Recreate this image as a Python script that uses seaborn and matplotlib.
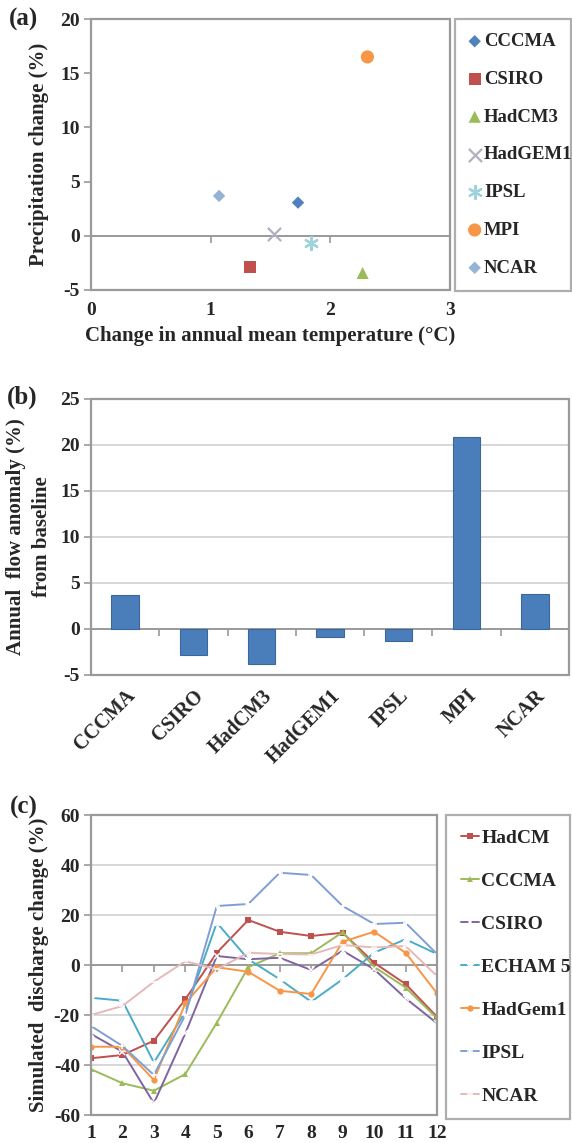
import numpy as np
import pandas as pd
import matplotlib
matplotlib.use("Agg")
import matplotlib.pyplot as plt
import seaborn as sns
from matplotlib.patches import Rectangle

# ---------------- data ----------------
models_a = ["CCCMA", "CSIRO", "HadCM3", "HadGEM1", "IPSL", "MPI", "NCAR"]
temp_change = [1.73, 1.33, 2.27, 1.53, 1.84, 2.31, 1.07]
precip_change = [3.06, -2.85, -3.43, 0.2, -0.67, 16.5, 3.68]

models_b = ["CCCMA", "CSIRO", "HadCM3", "HadGEM1", "IPSL", "MPI", "NCAR"]
flow_anomaly = [3.7, -2.8, -3.8, -0.9, -1.3, 20.9, 3.8]

months = [1, 2, 3, 4, 5, 6, 7, 8, 9, 10, 11, 12]
series_c = ["HadCM", "CCCMA", "CSIRO", "ECHAM 5", "HadGem1", "IPSL", "NCAR"]
hadcm = [-37.3, -36.0, -30.3, -13.7, 4.9, 18.0, 13.3, 11.6, 12.9, 0.9, -7.6, -20.7]
cccma = [-41.7, -47.3, -50.3, -43.6, -23.1, -0.9, 4.7, 4.7, 13.1, -0.7, -9.0, -21.3]
csiro = [-27.6, -34.7, -55.3, -27.3, 3.6, 2.3, 2.9, -2.0, 5.7, -1.7, -13.3, -23.3]
echam5 = [-13.1, -14.3, -39.0, -18.7, 16.9, 2.3, -5.7, -14.7, -5.7, 4.9, 10.3, 4.4]
hadgem1 = [-32.7, -32.7, -46.0, -15.3, -0.9, -2.7, -10.3, -11.6, 9.3, 13.3, 4.9, -11.3]
ipsl = [-24.4, -32.4, -44.0, -20.0, 23.6, 24.4, 36.9, 36.0, 23.6, 16.4, 16.9, 4.4]
ncar = [-20.0, -16.4, -6.7, 1.5, -1.7, 4.9, 4.4, 4.2, 8.0, 7.0, 7.6, -4.4]
values_c = [hadcm, cccma, csiro, echam5, hadgem1, ipsl, ncar]

# ---------------- style ----------------
sns.set_theme(style="white")
plt.rcParams["font.family"] = ["Liberation Serif", "DejaVu Serif"]
plt.rcParams["font.weight"] = "bold"
plt.rcParams["axes.labelweight"] = "bold"
plt.rcParams["axes.unicode_minus"] = False

GREY = "#9A9A9A"
GRID = "#D4D4D4"
FS = 14      # tick labels
LFS = 15     # axis titles

colors_a = {"CCCMA": "#4F81BD", "CSIRO": "#C0504D", "HadCM3": "#9BBB59",
            "HadGEM1": "#B4AEC2", "IPSL": "#9ED3DC", "MPI": "#F79646",
            "NCAR": "#95B3D7"}
markers_a = {"CCCMA": "D", "CSIRO": "s", "HadCM3": "^", "HadGEM1": "x",
             "IPSL": (6, 2, 0), "MPI": "o", "NCAR": "D"}
sizes_a = {"CCCMA": 40, "CSIRO": 75, "HadCM3": 75, "HadGEM1": 90,
           "IPSL": 90, "MPI": 90, "NCAR": 40}

colors_c = {"HadCM": "#C0504D", "CCCMA": "#9BBB59", "CSIRO": "#8064A2",
            "ECHAM 5": "#4BACC6", "HadGem1": "#F79646", "IPSL": "#7F9FD3",
            "NCAR": "#E6B9B8"}
markers_c = {"HadCM": "s", "CCCMA": "^", "CSIRO": "x", "ECHAM 5": (6, 2, 0),
             "HadGem1": "o", "IPSL": "+", "NCAR": "_"}

W, H = 572, 1143
fig = plt.figure(figsize=(W / 100, H / 100), dpi=100)


def fx(px):
    return px / W


def fy(py):
    return 1 - py / H


def frame(ax):
    for s in ax.spines.values():
        s.set_visible(False)
    ax.add_patch(Rectangle((0, 0), 1, 1, transform=ax.transAxes, fill=False,
                           edgecolor=GREY, linewidth=1.6, clip_on=False, zorder=5))


def zero_axis(ax, ticks, length=5):
    ax.spines["bottom"].set_visible(True)
    ax.spines["bottom"].set_position(("data", 0))
    ax.spines["bottom"].set_color(GREY)
    ax.spines["bottom"].set_linewidth(1.4)
    ax.set_xticks(ticks)
    ax.tick_params(axis="x", which="both", direction="out", length=length,
                   width=1.2, color=GREY, labelbottom=False, bottom=True)


def bottom_labels(ax, ticks, labels, size=FS, pad=6, **kw):
    sec = ax.secondary_xaxis("bottom")
    sec.set_xticks(ticks, labels=labels)
    sec.tick_params(length=0, labelsize=size, pad=pad)
    for s in sec.spines.values():
        s.set_visible(False)
    for t in sec.get_xticklabels():
        t.set_fontweight("bold")
        for k, v in kw.items():
            getattr(t, "set_" + k)(v)
    return sec


def left_ticks(ax):
    ax.tick_params(axis="y", direction="out", length=5, width=1.2, color=GREY,
                   left=True, labelsize=FS, pad=3)
    for t in ax.get_yticklabels():
        t.set_fontweight("bold")


# ---------------- panel (a) ----------------
ax_a = fig.add_axes([fx(91), fy(290), fx(450 - 91), (290 - 19) / H])
df_a = pd.DataFrame({"model": models_a, "temp": temp_change, "precip": precip_change})
for m in models_a:
    sub = df_a[df_a["model"] == m]
    filled = markers_a[m] not in ("x", (6, 2, 0))
    sns.scatterplot(data=sub, x="temp", y="precip", marker=markers_a[m],
                    color=colors_a[m], s=sizes_a[m], label=m, ax=ax_a,
                    edgecolor="none" if filled else None,
                    linewidth=0 if filled else 1.6, zorder=4)
ax_a.set_xlim(0, 3)
ax_a.set_ylim(-5, 20)
ax_a.set_yticks([-5, 0, 5, 10, 15, 20])
frame(ax_a)
zero_axis(ax_a, [0, 1, 2, 3])
sec_a = bottom_labels(ax_a, [0, 1, 2, 3], ["0", "1", "2", "3"], pad=9)
left_ticks(ax_a)
ax_a.set_xlabel("")
sec_a.set_xlabel("Change in annual mean temperature (\u00b0C)", fontsize=LFS,
                 fontweight="bold", labelpad=5)
ax_a.set_ylabel("Precipitation change (%)", fontsize=LFS, fontweight="bold", labelpad=8)
h, l = ax_a.get_legend_handles_labels()
ax_a.get_legend().remove()
leg_a = fig.legend(h, l, loc="upper left",
                   bbox_to_anchor=(fx(455), fy(290), fx(571 - 455), (290 - 19) / H),
                   mode="expand", frameon=True, fancybox=False, fontsize=13.5,
                   labelspacing=1.1, handlelength=0.6, handletextpad=0.2,
                   borderpad=0.75, borderaxespad=0)
leg_a.get_frame().set_edgecolor(GREY)
leg_a.get_frame().set_linewidth(1.6)
for t in leg_a.get_texts():
    t.set_fontweight("bold")

# ---------------- panel (b) ----------------
ax_b = fig.add_axes([fx(91), fy(675), fx(569 - 91), (675 - 399) / H])
df_b = pd.DataFrame({"model": models_b, "flow": flow_anomaly})
sns.barplot(data=df_b, x="model", y="flow", color="#4A7EBB", saturation=1,
            width=0.4, edgecolor="#3B679E", linewidth=0.8, ax=ax_b, zorder=3)
ax_b.set_xlim(-0.5, len(models_b) - 0.5)
ax_b.set_ylim(-5, 25)
ax_b.set_yticks([-5, 0, 5, 10, 15, 20, 25])
ax_b.yaxis.grid(True, color=GRID, linewidth=1.3, zorder=0)
ax_b.set_axisbelow(True)
frame(ax_b)
zero_axis(ax_b, [i + 0.5 for i in range(len(models_b) - 1)])
bottom_labels(ax_b, list(range(len(models_b))), models_b, size=14.5, pad=8,
              rotation=45, ha="right", rotation_mode="anchor")
left_ticks(ax_b)
ax_b.set_xlabel("")
ax_b.set_ylabel("Annual  flow anomaly (%)\nfrom baseline", fontsize=LFS,
                fontweight="bold", labelpad=6, linespacing=1.4)

# ---------------- panel (c) ----------------
ax_c = fig.add_axes([fx(91), fy(1115), fx(437 - 91), (1115 - 815) / H])
for name, vals in zip(series_c, values_c):
    mk = markers_c[name]
    filled = mk in ("s", "^", "o")
    sns.lineplot(x=months, y=vals, color=colors_c[name], marker=mk,
                 markersize=4.5 if filled else 5, markeredgewidth=0 if filled else 1.1,
                 linewidth=1.4, label=name, ax=ax_c, zorder=4)
ax_c.set_xlim(1, 12)
ax_c.set_ylim(-60, 60)
ax_c.set_yticks([-60, -40, -20, 0, 20, 40, 60])
ax_c.yaxis.grid(True, color=GRID, linewidth=1.3, zorder=0)
ax_c.set_axisbelow(True)
frame(ax_c)
zero_axis(ax_c, months)
bottom_labels(ax_c, months, [str(m) for m in months], pad=7)
left_ticks(ax_c)
ax_c.set_ylabel("Simulated  discharge change (%)", fontsize=LFS, fontweight="bold",
                labelpad=3)
h, l = ax_c.get_legend_handles_labels()
ax_c.get_legend().remove()
leg_c = fig.legend(h, l, loc="upper left",
                   bbox_to_anchor=(fx(446), fy(1117), fx(570 - 446), (1117 - 815) / H),
                   mode="expand", frameon=True, fancybox=False, fontsize=14,
                   labelspacing=1.3, handlelength=0.95, handletextpad=0.12,
                   borderpad=0.75, borderaxespad=0)
leg_c.get_frame().set_edgecolor(GREY)
leg_c.get_frame().set_linewidth(1.6)
for t in leg_c.get_texts():
    t.set_fontweight("bold")

# ---------------- panel letters ----------------
fig.text(fx(9), fy(19), "(a)", fontsize=18, fontweight="bold", va="center", ha="left")
fig.text(fx(7), fy(397), "(b)", fontsize=18, fontweight="bold", va="center", ha="left")
fig.text(fx(10), fy(807), "(c)", fontsize=18, fontweight="bold", va="center", ha="left")

fig.savefig("out.png", dpi=100)
